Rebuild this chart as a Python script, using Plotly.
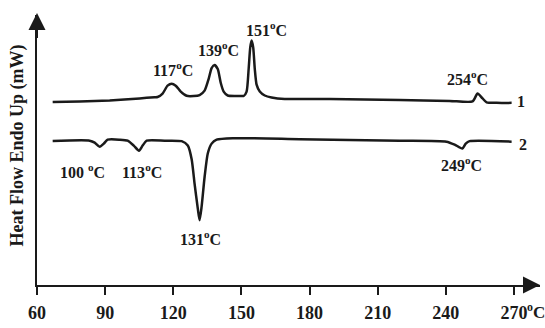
import plotly.graph_objects as go

# Curve 1 (heating), temperature in degC, heat flow in arbitrary units (mW)
t1 = [66.9, 78.8, 92.0, 105.2, 111.8, 113.1, 115.3, 117.5, 119.3, 121.1, 123.3, 125.9,
      129.0, 131.6, 133.8, 135.6, 136.9, 138.2, 139.6, 140.9, 142.2, 144.0, 147.5, 150.1,
      151.0, 152.3, 153.2, 153.9, 154.5, 155.2, 155.9, 156.7, 158.1, 160.3, 163.3, 169.1,
      188.9, 219.7, 241.7, 251.8, 254.0, 256.2, 258.0, 262.4, 269.0]
h1 = [18.65, 18.7, 18.8, 19.0, 19.13, 19.15, 19.5, 20.3, 20.5, 20.3, 19.7, 19.27,
      19.25, 19.35, 19.8, 21.0, 22.1, 22.4, 22.0, 20.6, 19.7, 19.3, 19.25, 19.25,
      19.25, 19.7, 22.0, 24.2, 24.9, 24.2, 22.0, 20.4, 19.7, 19.3, 19.1, 18.95,
      18.95, 18.85, 18.75, 18.7, 19.5, 19.0, 18.6, 18.55, 18.55]

# Curve 2 (cooling)
t2 = [66.9, 83.2, 85.4, 87.6, 89.4, 91.1, 96.4, 99.9, 102.6, 104.9, 106.5, 108.3,
      116.2, 123.7, 126.4, 128.1, 129.4, 130.8, 131.6, 132.5, 133.8, 135.2, 136.9,
      139.1, 146.2, 175.7, 219.7, 240.3, 243.9, 247.3, 248.8, 250.5, 269.0]
h2 = [14.67, 14.7, 14.5, 14.07, 14.4, 14.8, 14.8, 14.7, 14.2, 13.67, 14.2, 14.7,
      14.7, 14.65, 14.2, 12.8, 10.3, 7.8, 6.6, 8.0, 11.0, 13.4, 14.4,
      14.8, 14.95, 14.85, 14.7, 14.6, 14.3, 13.9, 14.4, 14.65, 14.6]

tick_vals = [60, 90, 120, 150, 180, 210, 240, 270]
tick_text = ["60", "90", "120", "150", "180", "210", "240", "270"]

peak_labels = ["117<sup>o</sup>C", "139<sup>o</sup>C", "151<sup>o</sup>C", "254<sup>o</sup>C",
               "100 <sup>o</sup>C", "113<sup>o</sup>C", "131<sup>o</sup>C", "249<sup>o</sup>C"]
peak_lx = [119.8, 140.0, 161.1, 249.6, 80.1, 106.1, 132.1, 247.0]
peak_ly = [22.0, 24.0, 26.1, 21.1, 11.6, 11.6, 4.8, 12.3]

curve_names = ["1", "2"]
curve_lx = [273.0, 273.9]
curve_ly = [18.7, 14.3]

FONT = "Liberation Serif"
INK = "#1a1a1a"

fig = go.Figure()
for t, h in ((t1, h1), (t2, h2)):
    fig.add_trace(go.Scatter(x=t, y=h, mode="lines",
                             line=dict(color=INK, width=2.5, shape="spline", smoothing=0.6),
                             showlegend=False, hoverinfo="skip"))

annotations = []
for txt, x, y in zip(peak_labels, peak_lx, peak_ly):
    annotations.append(dict(x=x, y=y, text=txt, showarrow=False,
                            xanchor="center", yanchor="middle",
                            font=dict(family=FONT, size=16, color=INK, weight="bold")))
for txt, x, y in zip(curve_names, curve_lx, curve_ly):
    annotations.append(dict(x=x, y=y, text=txt, showarrow=False,
                            xanchor="center", yanchor="middle",
                            font=dict(family=FONT, size=16, color=INK, weight="bold")))
# unit after last tick
annotations.append(dict(x=279.8, y=-0.095, yref="paper", text="<sup>o</sup>C", showarrow=False,
                        xanchor="center", yanchor="middle",
                        font=dict(family=FONT, size=17, color=INK, weight="bold")))
# y-axis title
annotations.append(dict(x=-0.038, y=0.516, xref="paper", yref="paper",
                        xanchor="center", yanchor="middle",
                        text="Heat Flow Endo Up (mW)", textangle=-90, showarrow=False,
                        font=dict(family=FONT, size=18, color=INK, weight="bold")))
# axis arrowheads
annotations.append(dict(x=281.5, y=0, ax=276, ay=0, axref="x", ayref="y", text="",
                        showarrow=True, arrowhead=2, arrowsize=1.7, arrowwidth=2,
                        arrowcolor=INK))
annotations.append(dict(x=60, y=27.7, ax=60, ay=25, axref="x", ayref="y", text="",
                        showarrow=True, arrowhead=2, arrowsize=1.7, arrowwidth=2,
                        arrowcolor=INK))

fig.update_layout(
    width=545, height=328,
    margin=dict(l=37, r=5, t=15, b=38),
    paper_bgcolor="white", plot_bgcolor="white",
    annotations=annotations,
    xaxis=dict(range=[60, 281.5], showline=True, linecolor=INK, linewidth=2,
               tickvals=tick_vals, ticktext=tick_text, ticks="outside", ticklen=8,
               tickwidth=2, tickcolor=INK, showgrid=False, zeroline=False,
               ticklabelstandoff=2,
               tickfont=dict(family=FONT, size=18, color=INK, weight="bold")),
    yaxis=dict(range=[0, 27.5], showline=True, linecolor=INK, linewidth=2,
               showticklabels=False, ticks="", showgrid=False, zeroline=False),
)

fig.write_html("out.html")
